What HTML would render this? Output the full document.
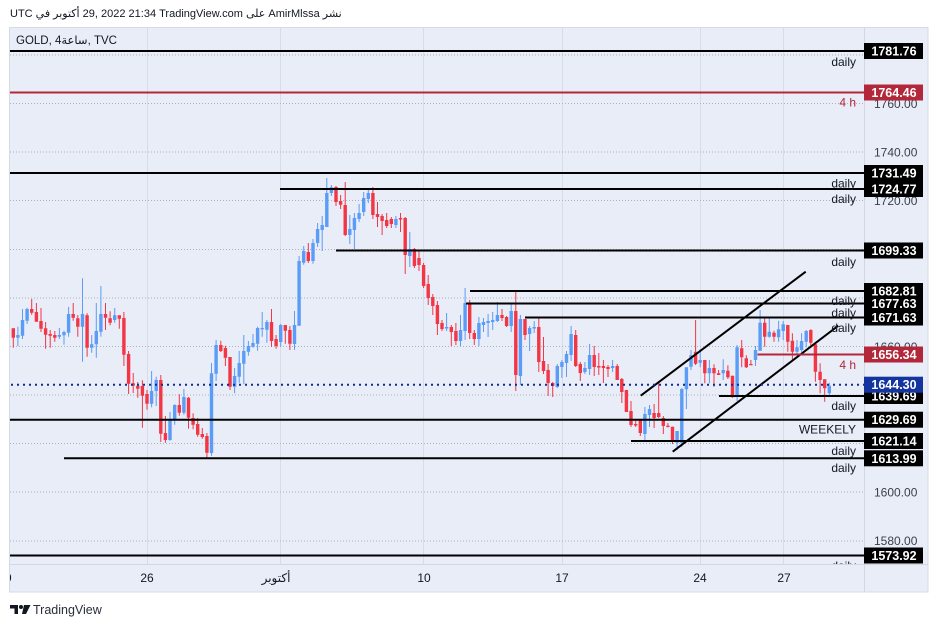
<!DOCTYPE html>
<html><head><meta charset="utf-8"><style>
html,body{margin:0;padding:0;background:#fff;}
body{position:relative;width:938px;height:627px;overflow:hidden;}
svg{display:block;font-family:"Liberation Sans","DejaVu Sans",sans-serif;}
.hdr{position:absolute;left:10px;top:7px;font-family:"Liberation Sans","DejaVu Sans",sans-serif;font-size:11px;line-height:14px;color:#131722;white-space:nowrap;}
.lg{position:absolute;left:16px;top:34px;font-family:"Liberation Sans","DejaVu Sans",sans-serif;font-size:11.5px;line-height:14px;color:#131722;white-space:nowrap;}
</style></head><body>
<svg width="938" height="627" viewBox="0 0 938 627" xmlns="http://www.w3.org/2000/svg">
<defs><clipPath id="pc"><rect x="10" y="28" width="854" height="536"/></clipPath>
<clipPath id="tc"><rect x="10" y="564" width="854" height="28"/></clipPath></defs>
<rect x="10" y="28" width="918" height="564" fill="#e9edf8"/>
<rect x="9.5" y="27.5" width="918.5" height="564.5" fill="none" stroke="#d6dae4" stroke-width="1"/>
<line x1="864.5" y1="28" x2="864.5" y2="592" stroke="#d3d7e1"/>
<line x1="10" y1="564.5" x2="928" y2="564.5" stroke="#d3d7e1"/>
<g stroke="#d8dce8" stroke-width="1">
<line x1="147.5" y1="28" x2="147.5" y2="564"/>
<line x1="280.5" y1="28" x2="280.5" y2="564"/>
<line x1="423.5" y1="28" x2="423.5" y2="564"/>
<line x1="562.5" y1="28" x2="562.5" y2="564"/>
<line x1="700.5" y1="28" x2="700.5" y2="564"/>
<line x1="783.5" y1="28" x2="783.5" y2="564"/>
</g>
<g stroke="#adb1bc" stroke-width="1" stroke-dasharray="1 2">
<line x1="10" y1="55" x2="864" y2="55"/>
<line x1="10" y1="103.5" x2="864" y2="103.5"/>
<line x1="10" y1="152" x2="864" y2="152"/>
<line x1="10" y1="200.5" x2="864" y2="200.5"/>
<line x1="10" y1="249.5" x2="864" y2="249.5"/>
<line x1="10" y1="298" x2="864" y2="298"/>
<line x1="10" y1="346.5" x2="864" y2="346.5"/>
<line x1="10" y1="395" x2="864" y2="395"/>
<line x1="10" y1="443.5" x2="864" y2="443.5"/>
<line x1="10" y1="492" x2="864" y2="492"/>
<line x1="10" y1="541" x2="864" y2="541"/>
</g>
<g clip-path="url(#pc)">
<path fill="none" stroke="#5b9cf6" stroke-width="1" d="M17.9 326.7V346M22.5 309V339M27.1 307.7V324M59.4 328V339M64 330.7V344.7M68.6 307V336.7M82.5 278.3V361.7M91.7 335V352.7M96.3 303V357.7M100.9 286V336.7M114.7 308V322.7M151.6 371V407.3M156.2 376.7V406M170 412V440.7M174.7 404.3V424.7M183.9 389V414.7M211.5 363V455.7M216.1 340V381M234.6 368V393.3M239.2 351V382.7M243.8 335V384.3M248.4 341V355.7M253 334V347.7M257.6 326.7V350.7M262.2 312V336.7M266.9 320V342.7M280.7 324V346.7M294.5 311V350M299.1 256V325.7M303.7 246V264.7M313 239V263.7M317.6 223V247M322.2 216V251M326.8 178V227M331.4 185V196M349.8 215V244M354.4 213V249M359.1 204V222M363.7 192V216M368.3 188V203M395.9 216V228M409.8 232V267M446.6 313V331M460.5 315V346M465.1 288V340M478.9 317V346M483.5 318V332M488.1 314V337M492.7 312V330M497.4 302V322M511.2 303V332M520.4 315V385M529.6 326V351M534.2 321V333M557.3 364V388M561.9 360V378M566.5 351V377M571.1 326V361M584.9 362V374M589.6 344V375M612.6 360V372M644.9 407V440M649.5 405V427M677.1 431V450M681.8 388V446.7M686.4 367.3V409M691 350V370M700.2 349.3V367.3M709.4 360V383.3M723.2 359.3V380M737.1 345V401M755.5 346V366M760.1 310V350.7M769.3 317.3V337.7M778.6 320.7V341.7M783.2 321V340M797 340V355M801.6 333.3V351.7M806.2 330V347.3M829.3 382.7V395"/>
<path fill="none" stroke="#5b9cf6" stroke-width="3.4" d="M17.9 335V337.7M22.5 320V335.7M27.1 309V320.7M59.4 335V336.7M64 332V335.3M68.6 314V332.7M82.5 314V326.7M91.7 344.3V347.7M96.3 331V344.3M100.9 314V331.7M114.7 315.3V320M151.6 391V403.7M156.2 380V391M170 419.3V440M174.7 405V419.7M183.9 397V412.7M211.5 373.3V453M216.1 345V373.7M234.6 376V386.7M239.2 363V376.7M243.8 351V363.7M248.4 346V351.7M253 343V346.7M257.6 328V343.7M262.2 328V329.3M266.9 322V329.7M280.7 325V342M294.5 325V344M299.1 261V325.7M303.7 251V262.7M313 243V261M317.6 229V243M322.2 225V230M326.8 193V227M331.4 187.3V193M349.8 229V235M354.4 218V230M359.1 213V219M363.7 198V212M368.3 193V199M395.9 219V225M409.8 249V256M446.6 327V328.5M460.5 330V341M465.1 303V331M478.9 323V339M483.5 322V325M488.1 321V323M492.7 320V322M497.4 315V321M511.2 311V326M520.4 319V376M529.6 328V334M534.2 327V328.5M557.3 366V387M561.9 362V367M566.5 354V363M571.1 334V355M584.9 368V372M589.6 355V369M612.6 366V368M644.9 414V434M649.5 409V415M677.1 431V442.7M681.8 389V443M686.4 367.3V389.3M691 355.3V366.7M700.2 360V362.7M709.4 368V373.3M723.2 370V373.3M737.1 347.3V396.7M755.5 350V360M760.1 322.7V350.7M769.3 331.7V336.7M778.6 329.3V337.3M783.2 324.3V331M797 347.3V351.7M801.6 341V350M806.2 331V341.7M829.3 385.7V393.3"/>
<path fill="none" stroke="#f23645" stroke-width="1" d="M13.3 328.3V347.7M31.7 299V314.7M36.4 303V321.7M41 308V332M45.6 322V348.7M50.2 330V347.7M54.8 331V341.7M73.2 303V320.7M77.8 315V336.7M87.1 313.3V356.7M105.5 303V330M110.1 311.3V325.3M119.3 315.3V328.7M123.9 312V366M128.6 351V394M133.2 373V393M137.8 382V397.7M142.4 380.3V427.7M147 390V409.7M160.8 375V442M165.4 416V442.7M179.3 394.3V415.7M188.5 397V428.7M193.1 413.3V429.3M197.7 418V436.7M202.3 428V438.7M206.9 433V457.7M220.8 340.7V352M225.4 345.7V366M230 357V390M271.5 309V346.7M276.1 335V348.7M285.3 325V343.7M289.9 326V350M308.3 243V263M336 186V206M340.6 195V209M345.2 182V236M372.9 187V219M377.5 202V227M382.1 214V235M386.7 213V228M391.3 217V228M400.5 213V232M405.2 217V274M414.4 248V268M419 250V271M423.6 263V288M428.2 275V305M432.8 294V315M437.4 301V335M442 320V331M451.3 325V346M455.9 323V345M469.7 300V339M474.3 330V345M502 309V321M506.6 316V327M515.8 292V391M525 319V340M538.8 318V372M543.5 337V374M548.1 364V396M552.7 382V397M575.7 330V367M580.3 362V381M594.2 346V376M598.8 353V375M603.4 360V383M608 365V377M617.2 364V380M621.8 378V403M626.4 390V412M631 401V427M635.7 420V427M640.3 419V436M654.1 404V428M658.7 381V418M663.3 416V434M667.9 423V427.5M672.5 426.7V444M695.6 320V365M704.8 360V383.3M714 364.3V386.7M718.6 370V375M727.9 365.3V379M732.5 375.7V397.7M741.7 340V367.3M746.3 355.3V368M750.9 360V365.3M764.7 317.3V346.7M774 330.7V341.7M787.8 325V351.7M792.4 333.3V360M810.8 329.3V347.3M815.4 344.3V381.7M820.1 363.3V393.3M824.7 379.3V401.7"/>
<path fill="none" stroke="#f23645" stroke-width="3.4" d="M13.3 328.3V337.7M31.7 309V312.7M36.4 312V321.7M41 321V328.7M45.6 328.3V334.7M50.2 334V335.7M54.8 335V337.7M73.2 314V317.7M77.8 318.3V326.7M87.1 315.3V347.7M105.5 314V317.7M110.1 318.3V322.7M119.3 315.3V318.7M123.9 318V354.7M128.6 354V383.7M133.2 383.3V385.7M137.8 385.7V388.7M142.4 386V395.7M147 394V403.7M160.8 380V433.7M165.4 433V440M179.3 405V412.7M188.5 397.7V417.7M193.1 418V424.7M197.7 424V434.7M202.3 434V437M206.9 436V452.7M220.8 345V351M225.4 348V357.7M230 357V386.7M271.5 322V341M276.1 339V346M285.3 325V330.7M289.9 330V343.7M308.3 252V261M336 187V202M340.6 201V204.7M345.2 205V235M372.9 193V215M377.5 214V217M382.1 216V221M386.7 220V226M391.3 219V224M400.5 218V219.5M405.2 218V255M414.4 249V266M419 258V265M423.6 265V286M428.2 284V298M432.8 297V306M437.4 305V324M442 323V329M451.3 327V332M455.9 331V341M469.7 303V333M474.3 333V339M502 315V318M506.6 317V326M515.8 311V375M525 319V335M538.8 327V362M543.5 361V371M548.1 370V383M552.7 383V386M575.7 335V366M580.3 364V373M594.2 355V367M598.8 366V367.5M603.4 366V368M608 367V369M617.2 366V380M621.8 379V392M626.4 390V412M631 411V425M635.7 424V425.5M640.3 420V433M654.1 413V418M658.7 413V417M663.3 418V426M667.9 425.7V427M672.5 426.7V442M695.6 351.7V363.7M704.8 360V373.3M714 368V373.3M718.6 373.3V375M727.9 370.7V377.3M732.5 375.7V397.3M741.7 348.3V357.3M746.3 358.3V367.3M750.9 364V365.3M764.7 322.7V336.7M774 332.7V336.7M787.8 325V341.7M792.4 340.7V351.7M810.8 330V342.7M815.4 344.3V371.7M820.1 371.7V380M824.7 379.3V388.3"/>
<g stroke="#000" stroke-width="2">
<line x1="10" y1="51" x2="864" y2="51"/>
<line x1="10" y1="173" x2="864" y2="173"/>
<line x1="280" y1="189" x2="864" y2="189"/>
<line x1="336" y1="250.5" x2="864" y2="250.5"/>
<line x1="470" y1="291" x2="864" y2="291"/>
<line x1="466" y1="303.5" x2="864" y2="303.5"/>
<line x1="525" y1="317.5" x2="864" y2="317.5"/>
<line x1="719" y1="396" x2="864" y2="396"/>
<line x1="10" y1="419.7" x2="864" y2="419.7"/>
<line x1="631" y1="441" x2="864" y2="441"/>
<line x1="64" y1="458.3" x2="864" y2="458.3"/>
<line x1="10" y1="555.5" x2="864" y2="555.5"/>
<line x1="640.7" y1="395.7" x2="805.7" y2="271.7"/>
<line x1="672.7" y1="451.7" x2="838.3" y2="325.7"/>
</g>
<g stroke="#b2283a" stroke-width="2">
<line x1="10" y1="92.5" x2="864" y2="92.5"/>
<line x1="757.5" y1="354.5" x2="864" y2="354.5"/>
</g>
<line x1="11" y1="384.7" x2="864" y2="384.7" stroke="#0c2d96" stroke-width="2" stroke-dasharray="2 4"/>
<g font-size="12" fill="#131722" text-anchor="end">
<text x="856" y="66">daily</text>
<text x="856" y="187.5">daily</text>
<text x="856" y="203">daily</text>
<text x="856" y="266">daily</text>
<text x="856" y="305">daily</text>
<text x="856" y="317">daily</text>
<text x="856" y="332">daily</text>
<text x="856" y="410">daily</text>
<text x="856" y="433.5">WEEKELY</text>
<text x="856" y="455">daily</text>
<text x="856" y="472">daily</text>
<text x="856" y="570">daily</text>
<text x="856" y="106.5" fill="#b2283a">4 h</text>
<text x="856" y="369" fill="#b2283a">4 h</text>
</g>
</g>
<g font-size="12" fill="#3b3f4a">
<text x="874" y="108">1760.00</text>
<text x="874" y="156.5">1740.00</text>
<text x="874" y="205">1720.00</text>
<text x="874" y="351">1660.00</text>
<text x="874" y="496.5">1600.00</text>
<text x="874" y="545">1580.00</text>
</g>
<g>
<rect x="864" y="43" width="59" height="16" fill="#000"/>
<rect x="864" y="84.5" width="59" height="16" fill="#b2283a"/>
<rect x="864" y="165" width="59" height="16" fill="#000"/>
<rect x="864" y="181" width="59" height="16" fill="#000"/>
<rect x="864" y="242.5" width="59" height="16" fill="#000"/>
<rect x="864" y="283" width="59" height="16" fill="#000"/>
<rect x="864" y="295.5" width="59" height="16" fill="#000"/>
<rect x="864" y="309.5" width="59" height="16" fill="#000"/>
<rect x="864" y="346.5" width="59" height="16" fill="#b2283a"/>
<rect x="864" y="388" width="59" height="16" fill="#000"/>
<rect x="864" y="411.7" width="59" height="16" fill="#000"/>
<rect x="864" y="433" width="59" height="16" fill="#000"/>
<rect x="864" y="450.3" width="59" height="16" fill="#000"/>
<rect x="864" y="547.5" width="59" height="16" fill="#000"/>
</g>
<g font-size="12.5" font-weight="bold" fill="#fff" text-anchor="middle">
<text x="894" y="55.5">1781.76</text>
<text x="894" y="97">1764.46</text>
<text x="894" y="177.5">1731.49</text>
<text x="894" y="193.5">1724.77</text>
<text x="894" y="255">1699.33</text>
<text x="894" y="295.5">1682.81</text>
<text x="894" y="308">1677.63</text>
<text x="894" y="322">1671.63</text>
<text x="894" y="359">1656.34</text>
<text x="894" y="400.5">1639.69</text>
<text x="894" y="424.2">1629.69</text>
<text x="894" y="445.5">1621.14</text>
<text x="894" y="462.8">1613.99</text>
<text x="894" y="560">1573.92</text>
</g>
<rect x="864" y="376.7" width="59" height="16" fill="#14359f"/>
<text x="894" y="389.2" font-size="12.5" font-weight="bold" fill="#fff" text-anchor="middle">1644.30</text>
<g font-size="12" fill="#131722" text-anchor="middle" clip-path="url(#tc)">
<text x="5" y="582">19</text>
<text x="147" y="582">26</text>
<text x="276" y="582">أكتوبر</text>
<text x="424" y="582">10</text>
<text x="562" y="582">17</text>
<text x="700" y="582">24</text>
<text x="784" y="582">27</text>
</g>
<g fill="#131722">
<path d="M10 605h8v9h-3.5v-5.5H10z"/>
<circle cx="21" cy="607" r="2"/>
<path d="M24 605h6.5l-4.5 9h-4z"/>
</g>
<text x="33" y="614" font-size="12.5" fill="#2a2e39">TradingView</text>
</svg>
<div class="hdr">UTC <span dir="rtl">في</span> <span dir="rtl">أكتوبر</span> 29, 2022 21:34 TradingView.com <span dir="rtl">على</span> AmirMlssa <span dir="rtl">نشر</span></div>
<div class="lg">GOLD, 4<span dir="rtl">ساعة</span>, TVC</div>
</body></html>
